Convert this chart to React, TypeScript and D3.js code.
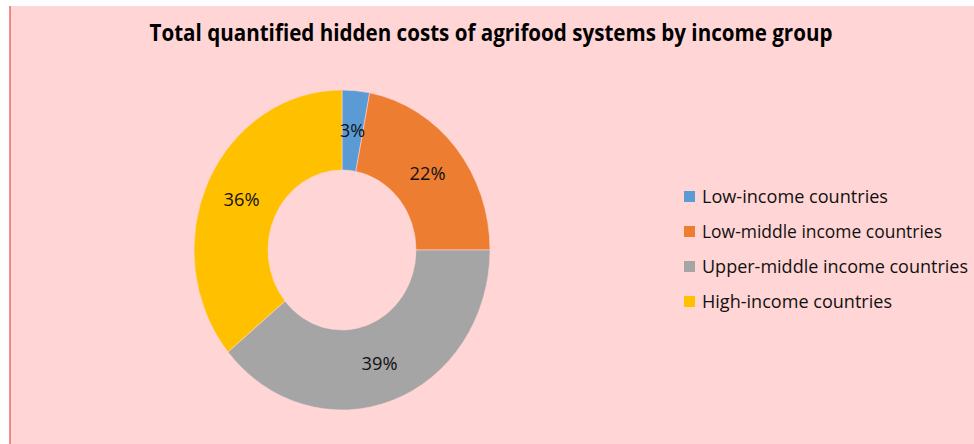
import React from "react";
import * as d3 from "d3";

const categories = [
  "Low-income countries",
  "Low-middle income countries",
  "Upper-middle income countries",
  "High-income countries",
];
const values = [3, 22, 39, 36];
const colors = ["#5B9BD5", "#ED7D31", "#A5A5A5", "#FFC000"];
const title = "Total quantified hidden costs of agrifood systems by income group";

const W = 974;
const H = 444;
const BG = "#FFD5D5";
const FONT = "'Open Sans', 'Noto Sans', 'DejaVu Sans', sans-serif";

export default function App() {
  const cx = 342;
  const cy = 250;
  const outer = 160;
  const inner = 80;
  const sx = 0.925;

  const pie = d3.pie<number>().value((d) => d).sort(null);
  const arcs = pie(values);
  const arc = d3.arc<d3.PieArcDatum<number>>().innerRadius(inner).outerRadius(outer);

  const total = d3.sum(values);
  const legendY = d3.scaleLinear().domain([0, 3]).range([197, 302]);
  const legendWidths = [186, 240, 266, 190];

  return (
    <div style={{ position: "absolute", left: 0, top: 0 }}>
      <svg width={W} height={H} style={{ display: "block" }}>
        <rect x={0} y={0} width={W} height={H} fill="#FFFFFF" />
        <rect x={10} y={6} width={W - 10} height={H - 6} fill={BG} />
        <line x1={10} y1={6} x2={10} y2={H} stroke="#F07070" strokeWidth={1.6} />
        <text
          x={491}
          y={41}
          textAnchor="middle"
          fontFamily={FONT}
          fontWeight="bold"
          fontSize={23}
          fill="#000"
          textLength={683}
          lengthAdjust="spacingAndGlyphs"
        >
          {title}
        </text>
        <g transform={`translate(${cx},${cy}) scale(${sx},1)`}>
          {arcs.map((a, i) => (
            <path key={i} d={arc(a) || ""} fill={colors[i]} stroke={BG} strokeWidth={0.6} />
          ))}
        </g>
        {arcs.map((a, i) => {
          const [x, y] = arc.centroid(a);
          const pct = Math.round((values[i] / total) * 100);
          return (
            <text
              key={i}
              x={cx + x * sx}
              y={cy + y}
              dy="0.36em"
              textAnchor="middle"
              fontFamily={FONT}
              fontSize={19}
              fill="#111"
              textLength={pct < 10 ? 25 : 36}
              lengthAdjust="spacingAndGlyphs"
            >
              {pct}%
            </text>
          );
        })}
        {categories.map((c, i) => (
          <g key={c}>
            <rect x={684} y={legendY(i) - 6} width={11} height={11} fill={colors[i]} />
            <text
              x={702}
              y={legendY(i)}
              dy="0.36em"
              fontFamily={FONT}
              fontSize={17.5}
              fill="#111"
              textLength={legendWidths[i]}
              lengthAdjust="spacingAndGlyphs"
            >
              {c}
            </text>
          </g>
        ))}
      </svg>
    </div>
  );
}
